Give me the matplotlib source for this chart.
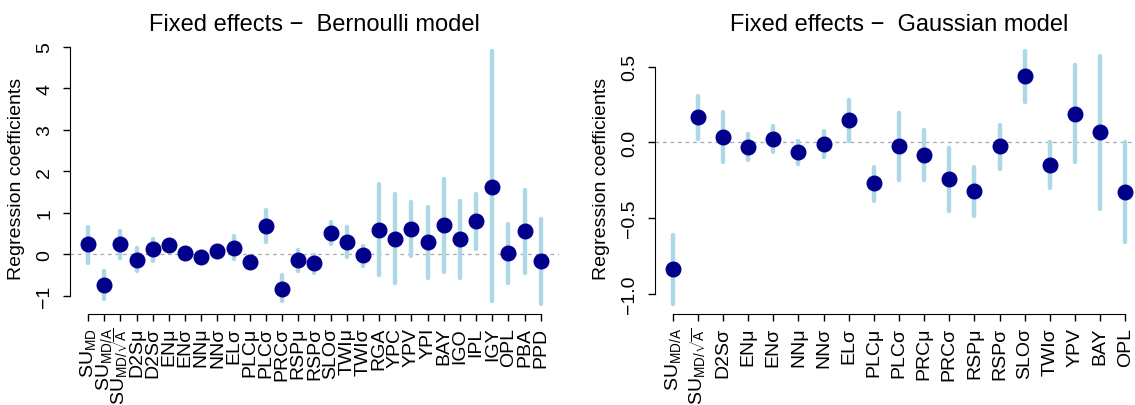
import matplotlib
matplotlib.use("Agg")
import matplotlib.pyplot as plt

plt.rcParams['font.family'] = ['Liberation Sans', 'DejaVu Sans']
plt.rcParams['mathtext.fontset'] = 'custom'
plt.rcParams['mathtext.rm'] = 'Liberation Sans'
plt.rcParams['mathtext.it'] = 'Liberation Sans:italic'
plt.rcParams['mathtext.bf'] = 'Liberation Sans:bold'

# Bernoulli model (left panel)
bern_labels = ['SU$_{\\mathrm{MD}}$', 'SU$_{\\mathrm{MD/A}}$', 'SU$_{\\mathrm{MD/}\\sqrt{\\mathrm{A}}}$',
               'D2Sμ', 'D2Sσ', 'ENμ', 'ENσ', 'NNμ', 'NNσ', 'ELσ', 'PLCμ', 'PLCσ', 'PRCσ',
               'RSPμ', 'RSPσ', 'SLOσ', 'TWIμ', 'TWIσ', 'RGA', 'YPC', 'YPV', 'YPI', 'BAY',
               'IGO', 'IPL', 'IGY', 'OPL', 'PBA', 'PPD']
bern_coef = [0.24, -0.74, 0.25, -0.13, 0.12, 0.22, 0.03, -0.07, 0.08, 0.16, -0.19, 0.68, -0.83,
             -0.14, -0.22, 0.52, 0.30, -0.02, 0.59, 0.38, 0.61, 0.30, 0.70, 0.37, 0.79, 1.62,
             0.02, 0.56, -0.16]
bern_lower = [-0.22, -1.08, -0.10, -0.40, -0.16, 0.12, -0.07, -0.15, 0.00, -0.11, -0.28, 0.30, -1.12,
              -0.39, -0.44, 0.25, -0.06, -0.27, -0.51, -0.68, -0.05, -0.56, -0.42, -0.56, 0.12, -1.12,
              -0.70, -0.46, -1.20]
bern_upper = [0.66, -0.39, 0.56, 0.14, 0.38, 0.32, 0.12, 0.02, 0.17, 0.45, -0.10, 1.06, -0.50,
              0.10, -0.02, 0.77, 0.65, 0.21, 1.69, 1.45, 1.25, 1.14, 1.82, 1.29, 1.46, 4.90,
              0.74, 1.56, 0.86]
bern_yticks = [-1, 0, 1, 2, 3, 4, 5]
bern_yticklabels = ['\u22121', '0', '1', '2', '3', '4', '5']

# Gaussian model (right panel)
gauss_labels = ['SU$_{\\mathrm{MD/A}}$', 'SU$_{\\mathrm{MD/}\\sqrt{\\mathrm{A}}}$', 'D2Sσ', 'ENμ', 'ENσ',
                'NNμ', 'NNσ', 'ELσ', 'PLCμ', 'PLCσ', 'PRCμ', 'PRCσ', 'RSPμ', 'RSPσ', 'SLOσ',
                'TWIσ', 'YPV', 'BAY', 'OPL']
gauss_coef = [-0.84, 0.167, 0.035, -0.03, 0.024, -0.066, -0.011, 0.147, -0.27, -0.027,
              -0.082, -0.245, -0.324, -0.027, 0.436, -0.148, 0.19, 0.066, -0.33]
gauss_lower = [-1.07, 0.02, -0.13, -0.115, -0.066, -0.143, -0.10, 0.01, -0.386, -0.25,
               -0.247, -0.454, -0.485, -0.176, 0.27, -0.30, -0.13, -0.44, -0.66]
gauss_upper = [-0.61, 0.31, 0.20, 0.055, 0.11, 0.01, 0.077, 0.28, -0.16, 0.194,
               0.08, -0.035, -0.16, 0.114, 0.606, 0.0, 0.51, 0.57, 0.004]
gauss_yticks = [-1.0, -0.5, 0.0, 0.5]
gauss_yticklabels = ['\u22121.0', '\u22120.5', '0.0', '0.5']


def draw_panel(ax, labels, coef, lower, upper, title, yticks, yticklabels):
    """
    Draw one coefficient panel in the base-R look
    """
    n = len(labels)
    x = list(range(1, n + 1))

    # R style 4% padding around the data
    xpad = 0.04 * (n - 1)
    lo, hi = min(lower), max(upper)
    ypad = 0.04 * (hi - lo)
    ax.set_xlim(1 - xpad, n + xpad)
    ax.set_ylim(lo - ypad, hi + ypad)

    ax.axhline(0, color='#a8a8a8', lw=0.9, ls=(0, (3, 3)), zorder=1)
    ax.vlines(x, lower, upper, color='lightblue', lw=3.2, capstyle='round', zorder=2)
    ax.plot(x, coef, 'o', color='darkblue', ms=10.5, zorder=3)

    ax.set_xticks(x)
    ax.set_xticklabels(labels, rotation=90, va='top', ha='center')
    ax.set_yticks(yticks)
    ax.set_yticklabels(yticklabels, rotation=90, va='center')

    for side in ['top', 'right']:
        ax.spines[side].set_visible(False)
    ax.spines['left'].set_bounds(yticks[0], yticks[-1])
    ax.spines['bottom'].set_bounds(1, n)
    ax.tick_params(axis='both', direction='out', length=5, width=1, labelsize=14)
    ax.tick_params(axis='y', pad=7)
    ax.tick_params(axis='x', pad=4)

    ax.set_ylabel('Regression coefficients', fontsize=14, labelpad=8)
    ax.set_title(title, fontsize=17, pad=8)


fig = plt.figure(figsize=(11.35, 4.06), dpi=100)
ax1 = fig.add_axes([0.0617, 0.2234, 0.4307, 0.6741])
ax2 = fig.add_axes([0.5767, 0.2234, 0.4307, 0.6741])

draw_panel(ax1, bern_labels, bern_coef, bern_lower, bern_upper,
           'Fixed effects \u2212  Bernoulli model', bern_yticks, bern_yticklabels)
draw_panel(ax2, gauss_labels, gauss_coef, gauss_lower, gauss_upper,
           'Fixed effects \u2212  Gaussian model', gauss_yticks, gauss_yticklabels)

fig.savefig('out.png', dpi=100)
